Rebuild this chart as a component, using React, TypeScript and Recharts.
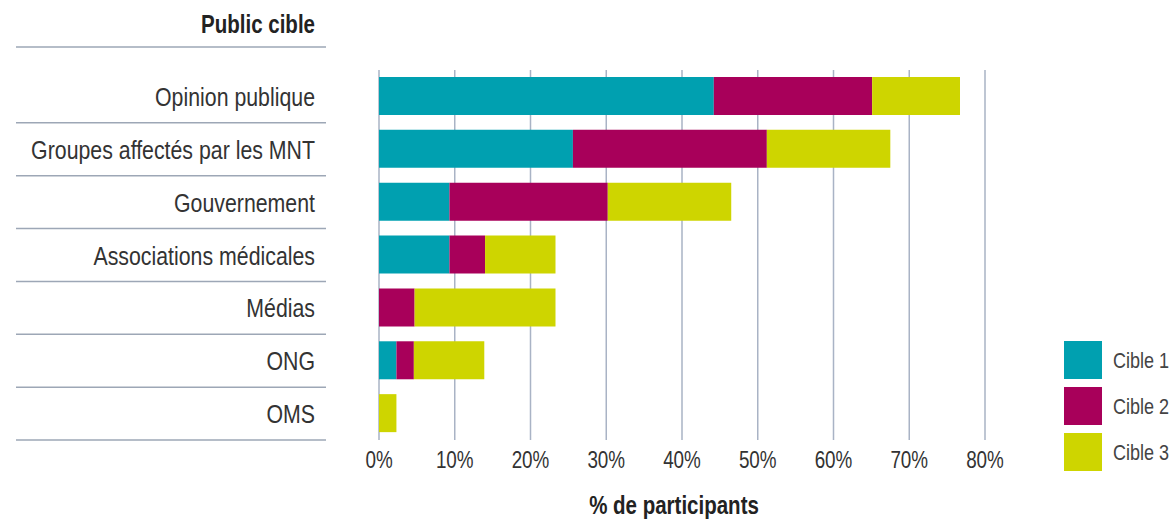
import { Bar, BarChart, CartesianGrid, XAxis, YAxis } from "recharts";

const categories = [
  "Opinion publique",
  "Groupes affectés par les MNT",
  "Gouvernement",
  "Associations médicales",
  "Médias",
  "ONG",
  "OMS",
];
const cible1 = [44.2, 25.6, 9.3, 9.3, 0, 2.3, 0];
const cible2 = [20.9, 25.6, 20.9, 4.7, 4.7, 2.3, 0];
const cible3 = [11.6, 16.3, 16.3, 9.3, 18.6, 9.3, 2.3];
const xTicks = [0, 10, 20, 30, 40, 50, 60, 70, 80];

const series = [
  { key: "cible1", name: "Cible 1", color: "#00A0B0" },
  { key: "cible2", name: "Cible 2", color: "#A8005A" },
  { key: "cible3", name: "Cible 3", color: "#CED500" },
];

const data = categories.map((name, i) => ({
  name,
  cible1: cible1[i],
  cible2: cible2[i],
  cible3: cible3[i],
}));

const FONT = "'Liberation Sans', Arial, sans-serif";
const W = 1174;
const H = 519;
const PLOT_TOP = 70;
const PLOT_BOTTOM = 440;
const X_AXIS_H = 30;
const BAND = (PLOT_BOTTOM - PLOT_TOP) / categories.length;
const RULE = "#9DA7B6";

// narrow sans: regular sans squeezed horizontally
const NarrowText = ({ x, y, size, anchor = "start", bold = false, fill = "#333", children }: any) => (
  <text
    transform={`translate(${x},${y}) scale(0.82,1)`}
    textAnchor={anchor}
    fontSize={size}
    fontWeight={bold ? "bold" : "normal"}
    fill={fill}
    fontFamily={FONT}
  >
    {children}
  </text>
);

const CategoryTick = ({ y, payload }: any) => (
  <g>
    <NarrowText x={315} y={y + 9.5} size={26} anchor="end">
      {payload.value}
    </NarrowText>
    <line x1={16} x2={326} y1={y + BAND / 2} y2={y + BAND / 2} stroke={RULE} strokeWidth={1.5} />
  </g>
);

const PercentTick = ({ x, y, payload }: any) => (
  <NarrowText x={x} y={y + 20} size={23} anchor="middle">
    {payload.value}%
  </NarrowText>
);

export default function App() {
  return (
    <div style={{ position: "absolute", left: 0, top: 0, width: W, height: H, background: "#fff" }}>
      <BarChart
        width={W}
        height={H}
        data={data}
        layout="vertical"
        margin={{ top: PLOT_TOP, bottom: H - PLOT_BOTTOM - X_AXIS_H, left: 0, right: W - 985 }}
        barSize={38}
      >
        <CartesianGrid horizontal={false} stroke="#A9B3C5" strokeWidth={1.5} />
        <XAxis
          type="number"
          domain={[0, 80]}
          ticks={xTicks}
          height={X_AXIS_H}
          axisLine={false}
          tickLine={false}
          tick={<PercentTick />}
          interval={0}
        />
        <YAxis
          type="category"
          dataKey="name"
          width={379}
          axisLine={false}
          tickLine={false}
          tick={<CategoryTick />}
          interval={0}
        />
        {series.map((s) => (
          <Bar key={s.key} dataKey={s.key} name={s.name} stackId="a" fill={s.color} isAnimationActive={false} />
        ))}
      </BarChart>
      <svg width={W} height={H} style={{ position: "absolute", left: 0, top: 0, pointerEvents: "none" }}>
        <NarrowText x={315} y={33} size={25} anchor="end" bold fill="#222">
          Public cible
        </NarrowText>
        <line x1={16} x2={326} y1={47} y2={47} stroke={RULE} strokeWidth={1.5} />
        <NarrowText x={674} y={514} size={25} anchor="middle" bold fill="#222">
          % de participants
        </NarrowText>
        {series.map((s, i) => (
          <g key={s.key}>
            <rect x={1064} y={341 + i * 46} width={38} height={38} fill={s.color} />
            <NarrowText x={1113} y={368 + i * 46} size={22} fill="#444">
              {s.name}
            </NarrowText>
          </g>
        ))}
      </svg>
    </div>
  );
}
